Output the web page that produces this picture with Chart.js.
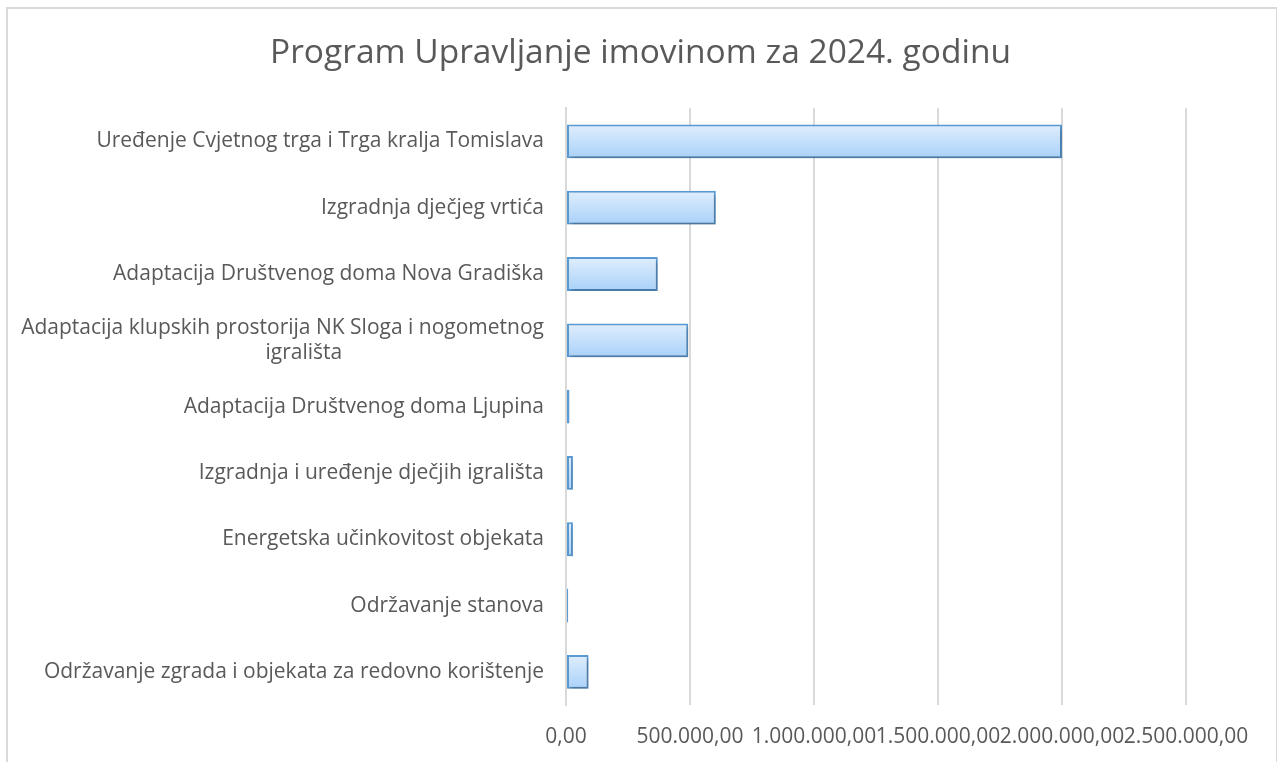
<!DOCTYPE html>
<html>
<head>
<meta charset="utf-8">
<script src="https://cdn.jsdelivr.net/npm/chart.js@4"></script>
<style>
  body { margin: 0; overflow: hidden; background: #fff; }
  #frame { position: absolute; left: 6px; top: 7px; width: 1268px; height: 800px; border: 2px solid #d9d9d9; }
  #wrap { position: absolute; left: 0; top: 0; width: 1277px; height: 762px; }
</style>
</head>
<body>
<div id="frame"></div>
<div id="wrap"><canvas id="chart"></canvas></div>
<script>
const title = "Program Upravljanje imovinom za 2024. godinu";

const categories = [
  "Uređenje Cvjetnog trga i Trga kralja Tomislava",
  "Izgradnja dječjeg vrtića",
  "Adaptacija Društvenog doma Nova Gradiška",
  ["Adaptacija klupskih prostorija NK Sloga i nogometnog", "igrališta"],
  "Adaptacija Društvenog doma Ljupina",
  "Izgradnja i uređenje dječjih igrališta",
  "Energetska učinkovitost objekata",
  "Održavanje stanova",
  "Održavanje zgrada i objekata za redovno korištenje"
];

const amounts = [2000000, 604000, 370000, 493000, 14000, 28000, 28000, 9000, 91000];

const xTicks = [0, 500000, 1000000, 1500000, 2000000, 2500000];

const labelFont = "21px 'Open Sans'";
const textColor = "#595959";

// 1234567.5 -> "1.234.567,50"
function formatHr(v) {
  const parts = v.toFixed(2).split(".");
  const whole = parts[0].replace(/\B(?=(\d{3})+(?!\d))/g, ".");
  return whole + "," + parts[1];
}

// pad the short lines of a wrapped label so they sit roughly centred under the long one
const measureCtx = document.createElement("canvas").getContext("2d");
function centerLines(label) {
  if (!Array.isArray(label)) return label;
  measureCtx.font = labelFont;
  const widths = label.map(l => measureCtx.measureText(l).width);
  const maxW = Math.max(...widths);
  const spaceW = measureCtx.measureText(" ").width;
  return label.map((l, i) => {
    const n = Math.round((maxW - widths[i]) / 2 / spaceW) - 4;
    return l + " ".repeat(Math.max(n, 0));
  });
}

function barGradient(context) {
  const chart = context.chart;
  const yScale = chart.scales.y;
  if (!chart.chartArea || !yScale) return "#bcdcfa";
  const yc = yScale.getPixelForValue(context.dataIndex);
  const g = chart.ctx.createLinearGradient(0, yc - 17, 0, yc + 17);
  g.addColorStop(0, "#e0eefd");
  g.addColorStop(1, "#a9d1f9");
  return g;
}

const shadowPlugin = {
  id: "barShadow",
  beforeDatasetsDraw(chart) {
    const c = chart.ctx;
    c.save();
    c.shadowColor = "rgba(0,0,0,0.25)";
    c.shadowBlur = 4;
    c.shadowOffsetX = 2;
    c.shadowOffsetY = 3;
  },
  afterDatasetsDraw(chart) {
    chart.ctx.restore();
  }
};

const ctx = document.getElementById("chart").getContext("2d");

new Chart(ctx, {
  type: "bar",
  data: {
    labels: categories,
    datasets: [{
      data: amounts,
      backgroundColor: barGradient,
      borderColor: "#5b9bd5",
      borderWidth: 2,
      borderSkipped: false,
      categoryPercentage: 1,
      barPercentage: 0.51
    }]
  },
  options: {
    indexAxis: "y",
    responsive: true,
    maintainAspectRatio: false,
    animation: false,
    layout: { padding: { left: 4, right: 0, top: 0, bottom: 0 } },
    plugins: {
      legend: { display: false },
      tooltip: { enabled: false },
      title: {
        display: true,
        text: title,
        color: textColor,
        font: { family: "'Open Sans'", size: 33.5, weight: "normal" },
        padding: { top: 33, bottom: 35 }
      }
    },
    scales: {
      x: {
        min: 0,
        max: 2500000,
        afterBuildTicks(scale) {
          scale.ticks = xTicks.map(v => ({ value: v }));
        },
        afterFit(scale) { scale.height = 57; },
        grid: { color: "#d9d9d9", lineWidth: 2, drawTicks: false },
        border: { display: false },
        ticks: {
          autoSkip: false,
          maxRotation: 0,
          padding: 19,
          color: textColor,
          font: { family: "'Open Sans'", size: 21 },
          callback: v => formatHr(v)
        }
      },
      y: {
        afterFit(scale) { scale.width = 562; },
        grid: { display: false, drawTicks: false },
        border: { display: true, color: "#d9d9d9", width: 2 },
        ticks: {
          padding: 22,
          color: textColor,
          font: { family: "'Open Sans'", size: 21 },
          callback: function (v, i) { return centerLines(categories[i]); }
        }
      },
      // empty strip on the right so the plot ends at 2.500.000 while the title stays centred
      rightGap: {
        type: "linear",
        axis: "y",
        position: "right",
        afterFit(scale) { scale.width = 91; },
        grid: { display: false, drawTicks: false },
        border: { display: false },
        ticks: { display: false }
      }
    }
  },
  plugins: [shadowPlugin]
});
</script>
</body>
</html>
